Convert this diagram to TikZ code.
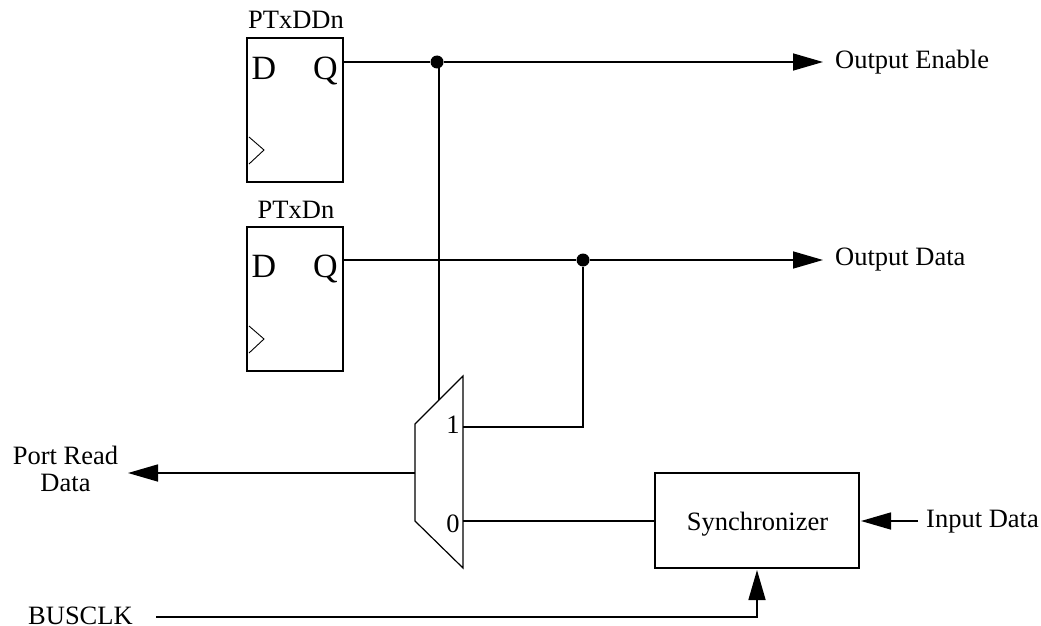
\documentclass[tikz,border=0pt]{standalone}
\usepackage{fontspec}
\setmainfont{Liberation Serif}
\usetikzlibrary{arrows.meta}
\tikzset{
  x=1pt,y=-1pt,
  ffbox/.style={draw,line width=1.6pt,minimum width=96pt,minimum height=144pt,inner sep=0pt,outer sep=0pt},
  wire/.style={line width=1.6pt},
  arrowwire/.style={line width=1.6pt,-{Triangle[length=30pt,width=17pt]}},
  thin line/.style={line width=0.9pt},
  lbl/.style={font=\fontsize{26.5}{27}\selectfont,inner sep=0pt},
  pin/.style={font=\fontsize{34}{36}\selectfont,inner sep=0pt,anchor=base},
  dotn/.style={circle,fill=black,minimum size=13pt,inner sep=0pt}
}
\begin{document}
\begin{tikzpicture}
\useasboundingbox (0,0) rectangle (1041,626);
\node[ffbox] (ffa) at (295,110) {};
\node[ffbox] (ffb) at (295,299) {};
\node[lbl,anchor=base] (ffal) at (296,29) {PTxDDn};
\node[lbl,anchor=base] (ffbl) at (296,218) {PTxDn};
\node[pin] (da) at (264,79) {D};
\node[pin] (qa) at (325.5,79) {Q};
\node[pin] (db) at (264,277) {D};
\node[pin] (qb) at (325.5,277) {Q};
\draw[thin line] (249,137) -- (264,150) -- (249,164);
\draw[thin line] (249,326) -- (264,339) -- (249,353);
\coordinate (qao) at (ffa.east|-0,62);
\coordinate (qbo) at (ffb.east|-0,260);
\node[dotn] (ja) at (437,62) {};
\node[dotn] (jb) at (583,260) {};
\coordinate (oe) at (823,62);
\coordinate (od) at (823,260);
\draw[arrowwire] (qao) -- (ja) -- (oe);
\draw[arrowwire] (qbo) -- (jb) -- (od);
\node[lbl,anchor=base west] (oel) at (835,69) {Output Enable};
\node[lbl,anchor=base west] (odl) at (835,265) {Output Data};
\draw[line width=1.2pt] (463,376) coordinate (mtr) -- (463,568) coordinate (mbr) -- (415,521) coordinate (mbl) -- (415,424) coordinate (mtl) -- cycle;
\coordinate (sel) at (439,400);
\coordinate (seltop) at (439,62);
\draw[wire] (seltop) -- (sel);
\coordinate (m1) at (463,427);
\coordinate (m0) at (463,521);
\coordinate (mo) at (415,473);
\node[lbl,anchor=base] (one) at (453,433) {1};
\node[lbl,anchor=base] (zero) at (453,532) {0};
\draw[wire] (m1) -- (583,427) -- (jb);
\node[draw,line width=1.6pt,minimum width=204pt,minimum height=95pt,inner sep=0pt,outer sep=0pt] (sync) at (757,520.5) {};
\node[lbl,anchor=base] (syncl) at (757.5,530) {Synchronizer};
\draw[wire] (m0) -- (sync.west|-m0);
\coordinate (por) at (128,473);
\draw[arrowwire] (mo) -- (por);
\node[lbl,anchor=base] (prd) at (65.5,464) {Port Read};
\node[lbl,anchor=base] (prdb) at (65.5,491) {Data};
\coordinate (idin) at (918,521);
\draw[arrowwire] (idin) -- (861,521);
\node[lbl,anchor=base west] (idl) at (926,527) {Input Data};
\coordinate (bcs) at (156,617);
\draw[arrowwire] (bcs) -- (757,617) -- (757,570);
\node[lbl,anchor=base west] (bcl) at (28,624) {BUSCLK};
\end{tikzpicture}
\end{document}
